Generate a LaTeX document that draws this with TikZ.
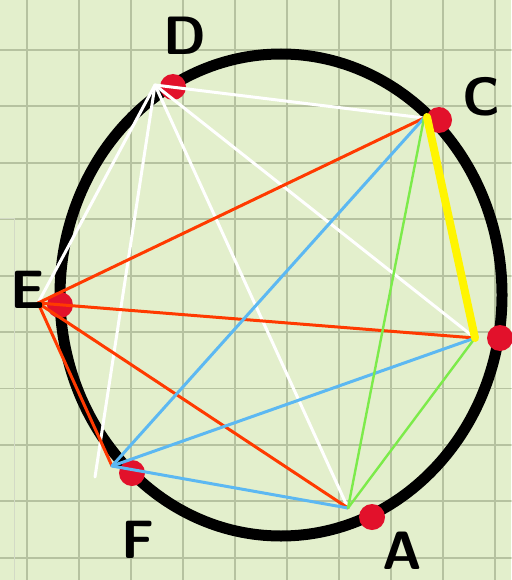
\documentclass[tikz,border=0pt]{standalone}
\usepackage{xcolor}
\definecolor{paper}{HTML}{E3EFCC}
\definecolor{gridline}{HTML}{B6C2A0}
\definecolor{dotred}{HTML}{E2112B}
\definecolor{linered}{HTML}{FF3A00}
\definecolor{lineblue}{HTML}{5CB8F2}
\definecolor{linegreen}{HTML}{7CEB4A}
\definecolor{lineyellow}{HTML}{FFF500}
\begin{document}
\begin{tikzpicture}[x=1pt, y=-1pt, line cap=round, line join=round]
	\tikzset{
		vertex/.style={circle, fill=dotred, inner sep=0pt, minimum size=26pt},
		letter/.style={font=\sffamily\bfseries\fontsize{54}{54}\selectfont},
		chord/.style={line width=3pt},
	}
	% Paper and bounding box
	\fill[paper] (0,0) rectangle (511,580);
	\useasboundingbox (0,0) rectangle (511,580);
	
	% Squared grid
	\foreach \x in {27,79,...,495}
	\draw[gridline, line width=1.8pt] (\x,0) -- (\x,580);
	\foreach \k in {0,...,9}
	\draw[gridline, line width=1.8pt] (0,50+56.4*\k) -- (511,50+56.4*\k);
	% Pasted strip on the left
	\draw[gridline!60, line width=1pt] (0,218) -- (14,218) -- (14,580);
	
	% The circle
	\draw[line width=11pt] (281,295) ellipse [x radius=221pt, y radius=241pt];
	
	% Points on the circle
	\node[vertex] (dD) at (173,87) {};
	\node[vertex] (dC) at (439,120) {};
	\node[vertex] (dE) at (60,305) {};
	\node[vertex] (dF) at (132,473) {};
	\node[vertex] (dA) at (372,517) {};
	\node[vertex] (dB) at (500,338) {};
	
	% Where the chords meet
	\coordinate (D) at (155,85);
	\coordinate (C) at (424,118);
	\coordinate (E) at (38,303);
	\coordinate (F) at (112,466);
	\coordinate (A) at (348,508);
	\coordinate (B) at (475,338);
	\coordinate (Fw) at (95,477);
	
	% Chords from D
	\foreach \p in {C,E,Fw,A,B}
	\draw[chord, white] (D) -- (\p);
	
	% Chords from E
	\foreach \p in {C,B,A,F}
	\draw[chord, linered] (E) -- (\p);
	
	% Chords from F
	\foreach \p in {C,B,A}
	\draw[chord, lineblue] (F) -- (\p);
	
	% Chords to A
	\draw[chord, linegreen, line width=2.4pt] (C) -- (A);
	\draw[chord, linegreen, line width=2.4pt] (B) -- (A);
	
	% Side CB
	\draw[lineyellow, line width=8pt] (427,117) coordinate (Cy) -- (B);
	
	% Labels
	\node[letter] (lD) at (185,36) {D};
	\node[letter] (lC) at (481,97) {C};
	\node[letter] (lE) at (28,290) {E};
	\node[letter] (lF) at (138,540) {F};
	\node[letter] (lA) at (402,551) {A};
\end{tikzpicture}
\end{document}
